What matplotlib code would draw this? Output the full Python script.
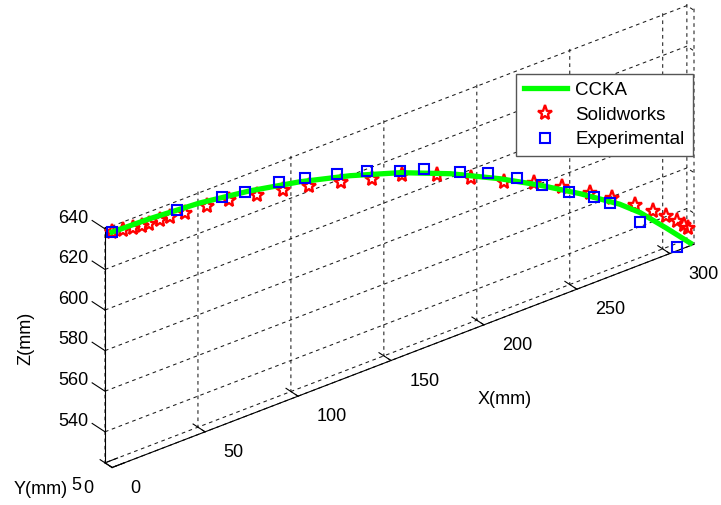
import numpy as np
import matplotlib
matplotlib.use('Agg')
import matplotlib.pyplot as plt
from mpl_toolkits.mplot3d import proj3d

# values (mm)
ccka_x = [0, 20, 47, 74, 101, 128, 155, 182, 209, 230, 252, 273, 284, 298, 311]
ccka_z = [640.7, 640.2, 638.5, 635.0, 630.0, 623.5, 615.5, 605.5, 593.5, 583.0,
          571.0, 558.5, 550.5, 538.0, 526.0]

sw_x = [0, 6, 11, 16, 20, 26, 31, 39, 51, 63, 78, 92, 106, 123, 140, 156, 175,
        193, 211, 227, 242, 257, 269, 281, 291, 298, 304, 307.5, 310]
sw_z = [640.7, 639.7, 638.9, 638.3, 637.9, 637.5, 637.1, 636.6, 635.6, 634.2,
        631.5, 629.1, 626.0, 622.3, 617.7, 613.8, 607.2, 599.3, 591.1, 584.9,
        577.7, 569.6, 562.8, 555.2, 548.8, 543.7, 539.4, 536.1, 533.7]

exp_x = [0, 35, 59, 71.5, 90, 104, 121, 137, 155, 168, 187, 202, 218, 231, 246,
         259, 268, 284, 304]
exp_z = [640.7, 639.3, 637.2, 635.3, 633.6, 630.9, 626.8, 622.6, 616.4, 612.6,
         604.7, 598.9, 590.8, 582.6, 573.9, 566.9, 560.9, 545.9, 526.6]

x_ticks = [0, 50, 100, 150, 200, 250, 300]
y_ticks = [0, 5]
z_ticks = [540, 560, 580, 600, 620, 640]
xlim = (0, 313)
ylim = (0, 5)
zlim = (524.7, 640.8)

plt.rcParams['font.family'] = ['Liberation Sans', 'DejaVu Sans']
plt.rcParams['font.size'] = 13

W, H = 721, 505
fig = plt.figure(figsize=(W / 100, H / 100), dpi=100)
S = 1000
ax = fig.add_axes([(W - S) / 2 / W, (H - S) / 2 / H, S / W, S / H],
                  projection='3d', proj_type='ortho')
ax.patch.set_alpha(0)
ax.computed_zorder = False

ax.plot(ccka_x, np.zeros(len(ccka_x)), ccka_z, color=(0, 1, 0), lw=3.8,
        label='CCKA', zorder=3)
ax.plot(sw_x, np.zeros(len(sw_x)), sw_z, linestyle='none', marker='*',
        ms=11, mfc='none', mec='red', mew=1.7, color='red',
        label='Solidworks', zorder=2)
ax.plot(exp_x, np.zeros(len(exp_x)), exp_z, linestyle='none', marker='s',
        ms=7.5, mfc='none', mec='blue', mew=1.5, color='blue',
        label='Experimental', zorder=4)

ax.set_xlim(*xlim)
ax.set_ylim(*ylim)
ax.set_zlim(*zlim)
ax.set_xticks(x_ticks)
ax.set_yticks(y_ticks)
ax.set_zticks(z_ticks)
ax.view_init(elev=30, azim=-127.5)

# MATLAB style: z ticks point along y
ax.zaxis._get_tickdir = lambda position: 1
tick_len = {ax.xaxis: 21, ax.yaxis: 0.27, ax.zaxis: 22.5}
for a in (ax.xaxis, ax.yaxis, ax.zaxis):
    a.set_pane_color((1, 1, 1, 0))
    a.line.set_color('k')
    a.line.set_linewidth(0.8)
    a._axinfo['grid'].update(color='#1a1a1a', linewidth=0.75,
                             linestyle=(0, (3.5, 3.5)))
    a._axinfo['tick']['inward_factor'] = 0.0
    a._axinfo['tick']['outward_factor'] = tick_len[a]
    a._axinfo['tick']['linewidth'] = {True: 0.8, False: 0.5}
    a._axinfo['axisline']['color'] = 'k'
    a.set_tick_params(which='both', label1On=False, label2On=False)
    a.label.set_visible(False)
    a.offsetText.set_visible(False)

# fit the projected box to where it sits in the original picture
target = (105, 694, 505 - 468, 505 - 4)  # left, right, bottom, top in px


def to_px(x, y, z):
    ax.apply_aspect()
    px, py, _ = proj3d.proj_transform(np.atleast_1d(x), np.atleast_1d(y),
                                      np.atleast_1d(z), ax.get_proj())
    return ax.transData.transform(np.column_stack([px, py]))


def box_px():
    cx, cy, cz = np.meshgrid(xlim, ylim, zlim)
    return to_px(cx.ravel(), cy.ravel(), cz.ravel())


aspect = (xlim[1] - xlim[0], ylim[1] - ylim[0], zlim[1] - zlim[0])
zoom = 1.0
ax.set_box_aspect(aspect, zoom=zoom)
p = box_px()
zoom *= (target[1] - target[0]) / (p[:, 0].max() - p[:, 0].min())
ax.set_box_aspect(aspect, zoom=zoom)
p = box_px()
dx = target[0] - p[:, 0].min()
dy = target[3] - p[:, 1].max()
pos = ax.get_position(original=True)
ax.set_position([pos.x0 + dx / W, pos.y0 + dy / H, pos.width, pos.height])


def label_at(x, y, z, s, **kw):
    px, py = to_px(x, y, z)[0]
    fig.text(px / W, py / H, s, **kw)


# tick labels next to the tick ends, like MATLAB
for xv in x_ticks:
    label_at(xv, -13, zlim[0], str(xv), ha='left', va='top')
for yv in y_ticks:
    # the two y labels nearly sit on each other; nudge the upper one left
    label_at(-10 - 0.5 * yv, yv, zlim[0] - 2.5, str(yv), ha='right', va='top')
for zv in z_ticks:
    label_at(0, ylim[1] + 11.5, zv, str(zv), ha='right', va='center')

fig.text(26 / W, 1 - 338 / H, 'Z(mm)', rotation=90, ha='center', va='center')
fig.text(505 / W, 1 - 400 / H, 'X(mm)', ha='center', va='center')
fig.text(41 / W, 1 - 490 / H, 'Y(mm)', ha='center', va='center')

ax.legend(loc='upper left', bbox_to_anchor=(516 / W, 1 - 74 / H),
          bbox_transform=fig.transFigure, fancybox=False, edgecolor='#555555',
          framealpha=1, borderaxespad=0, labelspacing=0.4, handlelength=2.3,
          handletextpad=0.45, borderpad=0.42, fontsize=13.5)

fig.savefig('out.png', dpi=100)
